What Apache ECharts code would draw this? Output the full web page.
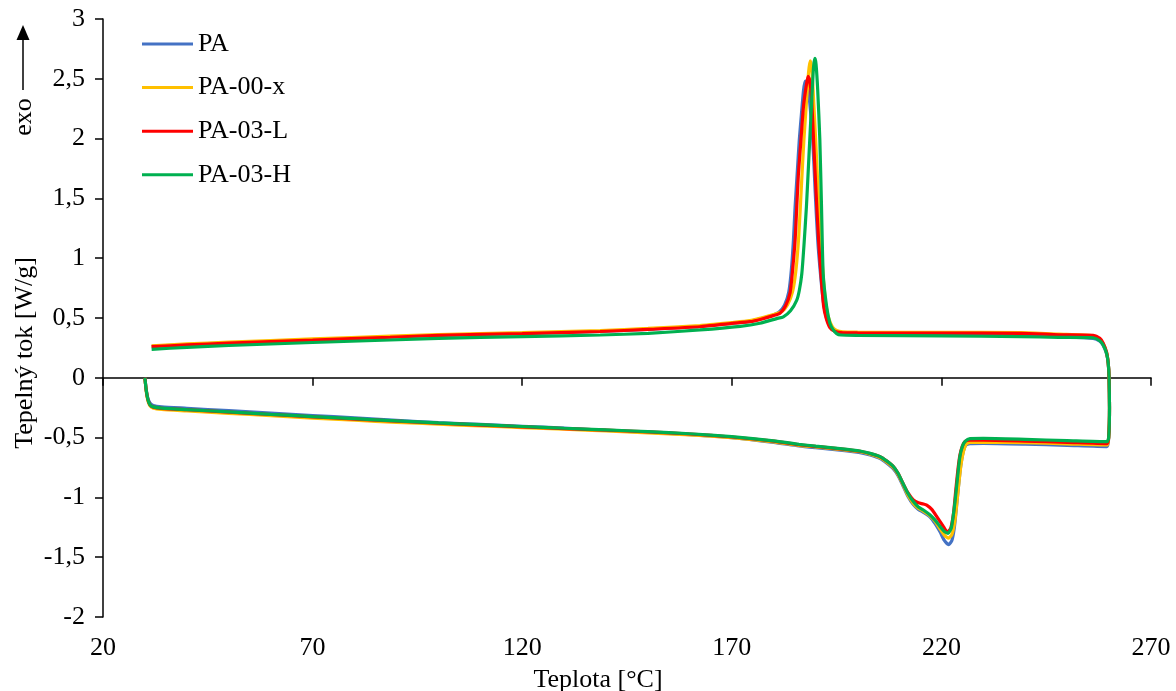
<!DOCTYPE html>
<html>
<head>
<meta charset="utf-8">
<script src="https://cdn.jsdelivr.net/npm/echarts@6/dist/echarts.min.js"></script>
<style>
html,body{margin:0;padding:0;background:#fff;}
#chart{width:1176px;height:691px;}
</style>
</head>
<body>
<div id="chart"></div>
<script>
const seriesNames = ['PA', 'PA-00-x', 'PA-03-L', 'PA-03-H'];
const seriesColors = ['#4472C4', '#FFC000', '#FF0000', '#00B050'];
const xTicks = { min: 20, max: 270, step: 50 };
const yTicks = { min: -2, max: 3, step: 0.5 };

// PA – heating then cooling
const paHeating = [[30,0],[30.3,-0.1],[30.7,-0.17],[31.2,-0.21],[32,-0.232],[34,-0.243],[40,-0.255],[50,-0.275],[60,-0.295],[70,-0.315],[80,-0.335],[90,-0.355],[100,-0.375],[110,-0.39],[120,-0.405],[130,-0.42],[140,-0.44],[150,-0.455],[160,-0.475],[170,-0.5],[180,-0.54],[186,-0.57],[190,-0.585],[195.8,-0.605],[200.6,-0.625],[203,-0.645],[205.4,-0.675],[207,-0.715],[208.5,-0.76],[209.7,-0.82],[210.8,-0.9],[212,-0.99],[213.3,-1.06],[214.5,-1.1],[215.7,-1.125],[217.3,-1.165],[218.5,-1.22],[219.7,-1.29],[220.7,-1.36],[221.7,-1.395],[222.5,-1.36],[223.1,-1.25],[223.6,-1.08],[224.1,-0.9],[224.6,-0.74],[225.2,-0.62],[225.8,-0.565],[226.8,-0.55],[230,-0.548],[240,-0.555],[250,-0.565],[259.5,-0.575],[259.9,-0.5],[260.1,-0.25],[260,0.0]];
const paCooling = [[259.8,0.12],[259.4,0.2],[258.6,0.27],[257.8,0.305],[256.2,0.33],[248,0.345],[239,0.36],[220,0.365],[200,0.37],[196,0.372],[194.6,0.39],[193.5,0.43],[192.6,0.5],[191.9,0.62],[191.2,0.85],[190.5,1.15],[189.9,1.55],[189.3,1.99],[188.6,2.3],[188,2.45],[187.5,2.48],[187.1,2.4],[186.6,2.2],[186.1,1.99],[185.6,1.71],[185.1,1.43],[184.7,1.15],[184.2,0.9],[183.6,0.72],[182.6,0.61],[181.3,0.55],[179.9,0.525],[177,0.495],[174.3,0.472],[170,0.456],[162.4,0.43],[150,0.405],[138.6,0.388],[120,0.372],[100,0.355],[88.5,0.342],[70,0.318],[50,0.292],[40,0.278],[31.6,0.262]];

// PA-00-x
const pa00Heating = [[30,0],[30.3,-0.11],[30.7,-0.19],[31.2,-0.235],[32,-0.255],[34,-0.265],[40,-0.277],[50,-0.297],[60,-0.317],[70,-0.337],[80,-0.355],[90,-0.372],[100,-0.388],[110,-0.402],[120,-0.416],[130,-0.43],[140,-0.445],[150,-0.46],[160,-0.477],[170,-0.5],[180,-0.535],[186,-0.565],[190,-0.578],[195.8,-0.598],[200.6,-0.618],[203,-0.638],[205.4,-0.668],[207,-0.705],[208.5,-0.75],[209.7,-0.81],[210.8,-0.89],[212,-0.98],[213.3,-1.05],[214.5,-1.09],[215.7,-1.115],[217.3,-1.155],[218.5,-1.2],[219.7,-1.265],[220.7,-1.315],[221.7,-1.34],[222.5,-1.31],[223.2,-1.2],[223.7,-1.04],[224.2,-0.87],[224.7,-0.72],[225.3,-0.61],[225.9,-0.555],[226.9,-0.54],[230,-0.538],[240,-0.543],[250,-0.552],[259.5,-0.562],[259.9,-0.5],[260.1,-0.25],[260,0.0]];
const pa00Cooling = [[259.8,0.12],[259.4,0.21],[258.6,0.285],[257.8,0.32],[256.2,0.352],[248,0.365],[239,0.378],[220,0.38],[200,0.382],[196.5,0.384],[195,0.395],[194,0.425],[193.1,0.5],[192.4,0.62],[191.8,0.85],[191.2,1.15],[190.6,1.55],[190,1.99],[189.4,2.4],[189,2.6],[188.7,2.65],[188.3,2.55],[187.8,2.3],[187.2,1.99],[186.6,1.6],[186,1.2],[185.3,0.9],[184.5,0.72],[183.3,0.61],[182,0.555],[180,0.528],[177,0.5],[174.3,0.478],[170,0.462],[162.4,0.437],[150,0.413],[138.6,0.395],[120,0.378],[100,0.362],[88.5,0.348],[70,0.325],[50,0.298],[40,0.283],[31.6,0.268]];

// PA-03-L
const pa03lHeating = [[30,0],[30.3,-0.1],[30.7,-0.18],[31.2,-0.225],[32,-0.245],[34,-0.255],[40,-0.267],[50,-0.287],[60,-0.307],[70,-0.327],[80,-0.345],[90,-0.363],[100,-0.38],[110,-0.395],[120,-0.41],[130,-0.425],[140,-0.438],[150,-0.452],[160,-0.47],[170,-0.495],[180,-0.53],[186,-0.56],[190,-0.574],[195.8,-0.594],[200.6,-0.614],[203,-0.633],[205.4,-0.66],[207,-0.697],[208.5,-0.74],[209.7,-0.8],[210.8,-0.88],[212,-0.96],[213.3,-1.02],[214.5,-1.045],[215.7,-1.055],[216.5,-1.065],[217.7,-1.1],[218.9,-1.16],[220.5,-1.245],[221.4,-1.29],[222.2,-1.26],[222.9,-1.13],[223.4,-0.95],[223.9,-0.78],[224.4,-0.65],[225,-0.57],[225.7,-0.53],[226.8,-0.522],[230,-0.522],[240,-0.53],[250,-0.54],[259.5,-0.55],[259.9,-0.5],[260.1,-0.25],[260,0.0]];
const pa03lCooling = [[259.8,0.12],[259.4,0.215],[258.6,0.29],[257.8,0.33],[256.2,0.355],[248,0.36],[239,0.372],[220,0.373],[200,0.375],[196,0.378],[194.5,0.39],[193.4,0.42],[192.5,0.5],[191.9,0.6],[191.3,0.85],[190.7,1.15],[190.1,1.55],[189.5,1.99],[189,2.35],[188.5,2.5],[188.2,2.52],[187.8,2.45],[187.1,2.27],[186.5,1.99],[185.9,1.71],[185.5,1.43],[185.1,1.15],[184.5,0.9],[183.9,0.71],[182.8,0.6],[181.5,0.54],[179.9,0.52],[177,0.49],[174.3,0.469],[170,0.455],[162.4,0.427],[150,0.405],[138.6,0.387],[120,0.37],[100,0.355],[88.5,0.339],[70,0.315],[50,0.29],[40,0.275],[31.6,0.26]];

// PA-03-H
const pa03hHeating = [[30,0],[30.3,-0.1],[30.7,-0.18],[31.2,-0.225],[32,-0.243],[34,-0.253],[40,-0.266],[50,-0.285],[60,-0.305],[70,-0.324],[80,-0.342],[90,-0.36],[100,-0.377],[110,-0.392],[120,-0.407],[130,-0.422],[140,-0.436],[150,-0.45],[160,-0.468],[170,-0.492],[180,-0.527],[186,-0.556],[190,-0.572],[195.8,-0.592],[200.6,-0.612],[203,-0.632],[205.4,-0.66],[207,-0.697],[208.5,-0.74],[209.7,-0.8],[210.8,-0.88],[212,-0.965],[213.3,-1.035],[214.5,-1.08],[215.7,-1.105],[217.3,-1.147],[218.5,-1.19],[219.7,-1.245],[220.7,-1.285],[221.6,-1.3],[222.4,-1.25],[223.2,-1.05],[223.8,-0.85],[224.4,-0.66],[225,-0.575],[225.6,-0.534],[226.8,-0.508],[230,-0.507],[240,-0.515],[250,-0.525],[259.5,-0.534],[259.9,-0.5],[260.1,-0.25],[260,0.0]];
const pa03hCooling = [[259.8,0.12],[259.4,0.205],[258.6,0.274],[257.8,0.31],[256.2,0.335],[248,0.338],[239,0.344],[220,0.35],[200,0.355],[196,0.358],[195,0.37],[194.2,0.4],[193.4,0.456],[192.6,0.6],[191.8,0.87],[191.4,1.43],[191,1.99],[190.5,2.4],[190.1,2.62],[189.85,2.67],[189.5,2.6],[189,2.27],[188.4,1.85],[187.8,1.43],[187.2,1.1],[186.7,0.87],[186.1,0.73],[185.5,0.65],[184,0.56],[182.3,0.51],[180.7,0.495],[176.7,0.456],[172,0.43],[162.4,0.4],[150,0.372],[138.6,0.358],[120,0.345],[100,0.33],[88.5,0.316],[70,0.295],[50,0.27],[40,0.255],[31.6,0.238]];

const allData = [
  paHeating.concat(paCooling),
  pa00Heating.concat(pa00Cooling),
  pa03lHeating.concat(pa03lCooling),
  pa03hHeating.concat(pa03hCooling)
];

const FONT = "'Liberation Serif', 'Times New Roman', serif";
const chart = echarts.init(document.getElementById('chart'), null, { renderer: 'canvas' });

const option = {
  animation: false,
  backgroundColor: '#fff',
  grid: { left: 103, right: 25, top: 19, bottom: 74, containLabel: false },
  legend: {
    left: 137, top: 26, orient: 'vertical',
    icon: 'rect', itemWidth: 51, itemHeight: 3, itemGap: 17.6,
    textStyle: { fontFamily: FONT, fontSize: 26, color: '#000', lineHeight: 26 },
    data: seriesNames
  },
  xAxis: {
    type: 'value', min: xTicks.min, max: xTicks.max, interval: xTicks.step,
    axisLine: { show: true, lineStyle: { color: '#000', width: 1.5 } },
    axisTick: { show: true, inside: false, length: 8, lineStyle: { color: '#000', width: 1.5 } },
    axisLabel: { fontFamily: FONT, fontSize: 26, color: '#000', margin: 18 },
    splitLine: { show: false }
  },
  yAxis: {
    type: 'value', min: yTicks.min, max: yTicks.max, interval: yTicks.step,
    axisLine: { show: true, lineStyle: { color: '#000', width: 1.5 } },
    axisTick: { show: true, inside: false, length: 8, lineStyle: { color: '#000', width: 1.5 } },
    axisLabel: { fontFamily: FONT, fontSize: 26, color: '#000', margin: 18,
      formatter: v => String(v).replace('.', ',') },
    splitLine: { show: false }
  },
  graphic: [
    { type: 'line', shape: { x1: 23, y1: 90, x2: 23, y2: 36 }, style: { stroke: '#000', lineWidth: 1.5 } },
    { type: 'polygon', shape: { points: [[23, 25], [16.5, 40], [29.5, 40]] }, style: { fill: '#000' } },
    { type: 'text', x: 24, y: 117, rotation: Math.PI / 2,
      style: { text: 'exo', fontFamily: FONT, fontSize: 26, fill: '#000', textAlign: 'center', textVerticalAlign: 'middle' } },
    { type: 'text', x: 25, y: 353, rotation: Math.PI / 2,
      style: { text: 'Tepelný tok [W/g]', fontFamily: FONT, fontSize: 26, fill: '#000', textAlign: 'center', textVerticalAlign: 'middle' } },
    { type: 'text', x: 598, y: 680,
      style: { text: 'Teplota [°C]', fontFamily: FONT, fontSize: 26, fill: '#000', textAlign: 'center', textVerticalAlign: 'middle' } }
  ],
  series: seriesNames.map((name, i) => ({
    name: name,
    type: 'line',
    data: allData[i],
    showSymbol: false,
    symbol: 'none',
    smooth: 0.2,
    color: seriesColors[i],
    itemStyle: { color: seriesColors[i] },
    lineStyle: { color: seriesColors[i], width: 3.2 },
    z: 2 + i
  }))
};
chart.setOption(option);
</script>
</body>
</html>
